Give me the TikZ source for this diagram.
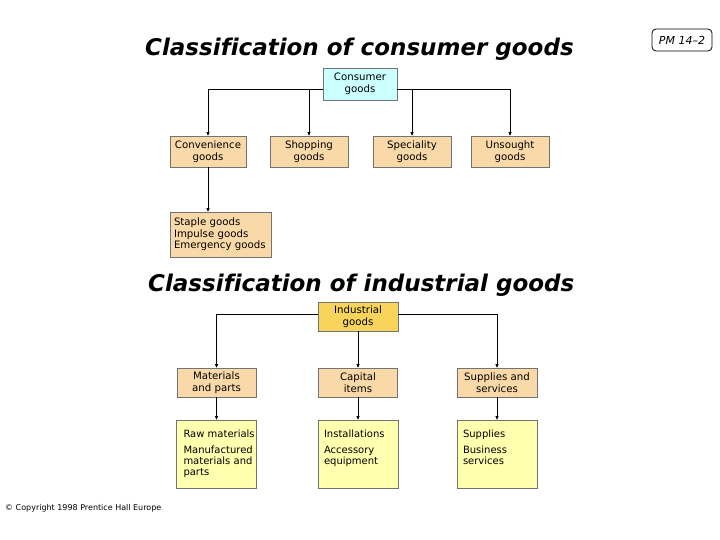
\documentclass[tikz,border=0pt]{standalone}
\usepackage{fontspec}
\setmainfont{DejaVu Sans}
\usetikzlibrary{arrows.meta}
\definecolor{cyanbox}{HTML}{CCFFFF}
\definecolor{peach}{HTML}{FAD9A8}
\definecolor{goldbox}{HTML}{F9D45A}
\definecolor{paleyellow}{HTML}{FFFFB0}
\begin{document}
\begin{tikzpicture}[x=1pt,y=-1pt,
  box/.style={draw=black!55, line width=0.6pt, inner sep=0pt, align=center,
    font=\fontsize{10.2}{11.5}\selectfont},
  topbox/.style={box, minimum width=#1},
  midbox/.style={box, fill=peach, minimum width=#1, minimum height=31pt},
  indmid/.style={box, fill=peach, minimum width=#1, minimum height=29pt},
  lowbox/.style={box, fill=paleyellow, minimum width=80pt, minimum height=68pt,
    font=\fontsize{10}{11}\selectfont},
  titletext/.style={anchor=base west, inner sep=0pt,
    font=\bfseries\itshape\fontsize{23}{27}\selectfont\addfontfeature{Ligatures=NoCommon}},
  arr/.style={draw=black, line width=0.7pt, -{Triangle[length=3.5pt,width=3pt]}},
]
\useasboundingbox[fill=white] (0,0) rectangle (720,540);

% titles
\node[titletext] (t1) at (145,56) {Classification of consumer goods};
\node[titletext] (t2) at (148,291) {Classification of industrial goods};

% PM label
\node[draw, rounded corners=4pt, line width=0.8pt, minimum width=60pt, minimum height=22pt,
  inner sep=0pt, font=\itshape\fontsize{11}{13}\selectfont] (pm) at (682,40) {PM 14–2};

% copyright
\node[anchor=west, inner sep=0pt, font=\fontsize{8}{10}\selectfont] (copy) at (5,508)
  {© Copyright 1998 Prentice Hall Europe};

% consumer goods tree
\node[topbox=74pt, fill=cyanbox, minimum height=32pt] (cons) at (360,84) {Consumer\\goods};
\node[midbox=76pt] (conv) at (208,151.5) {Convenience\\goods};
\node[midbox=78pt] (shop) at (309,151.5) {Shopping\\goods};
\node[midbox=78pt] (spec) at (412,151.5) {Speciality\\goods};
\node[midbox=78pt] (uns) at (510,151.5) {Unsought\\goods};
\node[box, fill=peach, align=left, text width=93pt, inner xsep=4pt, minimum height=45pt]
  (staple) at (220.5,234.5) {Staple goods\\Impulse goods\\Emergency goods};

\draw[arr] ([yshift=-5pt]cons.west) -| (conv.north);
\draw[arr] ([yshift=-5pt]cons.west) -| (shop.north);
\draw[arr] ([yshift=-5pt]cons.east) -| (spec.north);
\draw[arr] ([yshift=-5pt]cons.east) -| (uns.north);
\draw[arr] (conv.south) -- (conv.south |- staple.north);

% industrial goods tree
\node[topbox=80pt, fill=goldbox, minimum height=29pt] (ind) at (358,316.5) {Industrial\\goods};
\node[indmid=79pt] (mat) at (216.5,382.5) {Materials\\and parts};
\node[indmid=79pt] (cap) at (358,382.5) {Capital\\items};
\node[indmid=80pt] (sup) at (497,382.5) {Supplies and\\services};

\node[lowbox] (raw) at (216.5,454) {\hspace*{7pt}\parbox[t][60pt][t]{73pt}{\raggedright\vspace*{6pt}Raw~materials\\[5pt]Manufactured\\materials~and\\parts}};
\node[lowbox] (inst) at (358,454) {\hspace*{6pt}\parbox[t][60pt][t]{74pt}{\raggedright\vspace*{6pt}Installations\\[5pt]Accessory\\equipment}};
\node[lowbox] (bus) at (497,454) {\hspace*{6pt}\parbox[t][60pt][t]{74pt}{\raggedright\vspace*{6pt}Supplies\\[5pt]Business\\services}};

\draw[arr] ([yshift=2.5pt]ind.west) -| (mat.north);
\draw[arr] (ind.south) -- (cap.north);
\draw[arr] ([yshift=2.5pt]ind.east) -| (sup.north);
\draw[arr] (mat.south) -- (raw.north);
\draw[arr] (cap.south) -- (inst.north);
\draw[arr] (sup.south) -- (bus.north);
\end{tikzpicture}
\end{document}
